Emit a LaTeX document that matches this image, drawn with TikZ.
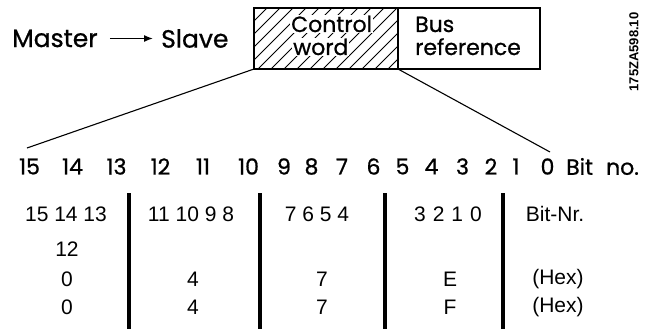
\documentclass[tikz,border=0pt]{standalone}
\usepackage{fontspec}
\setmainfont{Liberation Sans}
\newfontfamily\geofont{Poppins}[FakeBold=0.8]
\usetikzlibrary{arrows.meta}

\begin{document}
\begin{tikzpicture}[x=1pt,y=-1pt]
\useasboundingbox (0,0) rectangle (658,329);
% coordinates
\coordinate (CNW) at (254,8);
\coordinate (CSW) at (254,69);
\coordinate (CSE) at (398,69);
\coordinate (BNE) at (540,8);
\coordinate (LEND) at (27,148);
\coordinate (REND) at (550,152);

% header
\begin{scope}[every node/.style={inner sep=0pt, font=\geofont\fontsize{25}{30}\selectfont}]
\node[anchor=west] (master) at (12,38.5) {Master};
\node[anchor=west] (slave) at (161,38.5) {Slave};
\end{scope}
\draw[-{Latex[length=9pt,width=7pt]}, line width=1.3pt] ([xshift=12pt]master.east) -- ([xshift=-8pt]slave.west);

% control word (hatched) and bus reference
\begin{scope}
\clip (CNW) rectangle (CSE);
\foreach \x in {180,193,...,410}
  \draw[line width=0.8pt] (\x,69) -- ++(61,-61);
\end{scope}
\draw[line width=1.3pt] (CNW) rectangle (BNE |- CSE);
\draw[line width=1.3pt] (CSE) -- (CSE |- CNW);
\begin{scope}[every node/.style={inner sep=0pt, anchor=base west, font=\geofont\fontsize{22}{26}\selectfont}]
\node[fill=white, inner sep=1pt] (ctrl) at (290,32) {Control};
\node[fill=white, inner sep=1pt] (word) at (292,55) {word};
\node (bus) at (415,32) {Bus};
\node (busref) at (415,55) {reference};
\end{scope}
\node[rotate=90, inner sep=0pt, font=\bfseries\fontsize{13}{15}\selectfont] (code) at (634,52) {175ZA598.10};

% expansion lines
\draw[line width=1.1pt] (CSW) -- (LEND);
\draw[line width=1.1pt] (CSE) -- (REND);

% bit numbers
\begin{scope}[every node/.style={inner sep=0pt, font=\geofont\fontsize{22}{26}\selectfont}]
\foreach \x/\n in {29.5/15, 72.5/14, 116.5/13, 160.5/12, 203/11, 248.5/10, 284/9, 311.5/8,
                   342/7, 373.5/6, 402.5/5, 431.5/4, 462.5/3, 491/2, 516/1, 547.5/0}
  \node (b\n) at (\x,166.5) {\n};
\node[anchor=west] (bitno) at (566,166.5) {Bit\hspace{13pt}no.};
\end{scope}

% table
\foreach \x in {129,260,385,503}
  \draw[line width=3.5pt] (\x,193) -- (\x,329);
\begin{scope}[every node/.style={inner sep=0pt, font=\fontsize{21}{25}\selectfont}]
\node (h1) at (66,214) {15 14 13};
\node (h2) at (191,214) {11 10 9 8};
\node (h3) at (317,214) {7 6 5 4};
\node (h4) at (448,214) {3\,\,2\,\,1\,\,0};
\node (h5) at (555,214) {Bit-Nr.};
\node (h1b) at (67,249) {12};
\node (r1a) at (67,279) {0};
\node (r1b) at (193,279) {4};
\node (r1c) at (322,279) {7};
\node (r1d) at (450,279) {E};
\node (r1e) at (558,279) {(Hex)};
\node (r2a) at (67,307) {0};
\node (r2b) at (193,307) {4};
\node (r2c) at (322,307) {7};
\node (r2d) at (450,307) {F};
\node (r2e) at (558,307) {(Hex)};
\end{scope}

\end{tikzpicture}
\end{document}
